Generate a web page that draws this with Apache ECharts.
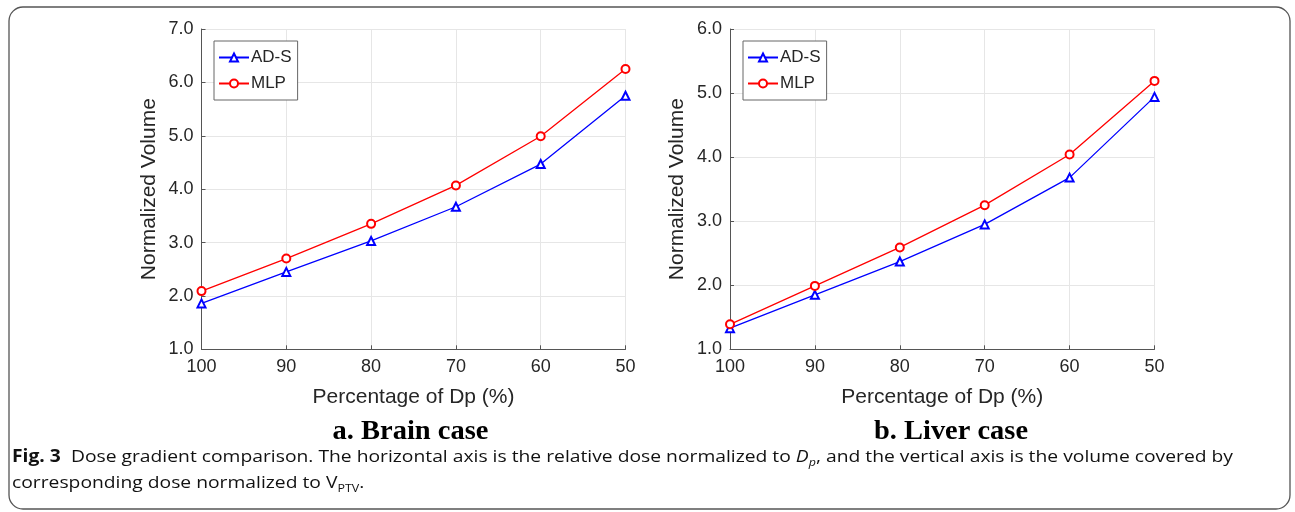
<!DOCTYPE html>
<html>
<head>
<meta charset="utf-8">
<script src="https://cdn.jsdelivr.net/npm/echarts@6/dist/echarts.min.js"></script>
<style>
html,body{margin:0;padding:0;background:#fff;}
#chart{width:1295px;height:512px;}
</style>
</head>
<body>
<div id="chart"></div>
<script>
// ---- data ----
var dosePercent = [100, 90, 80, 70, 60, 50];
var brainADS = [1.86, 2.45, 3.03, 3.67, 4.47, 5.75];
var brainMLP = [2.09, 2.70, 3.35, 4.07, 4.99, 6.25];
var liverADS = [1.33, 1.85, 2.37, 2.95, 3.68, 4.94];
var liverMLP = [1.39, 1.99, 2.59, 3.25, 4.04, 5.19];
var seriesNames = ['AD-S', 'MLP'];
var panelTitles = ['a. Brain case', 'b. Liver case'];
var xAxisTitle = 'Percentage of Dp (%)';
var yAxisTitle = 'Normalized Volume';
var captionBold = 'Fig. 3';
var caption1a = '  Dose gradient comparison. The horizontal axis is the relative dose normalized to ';
var caption1b = ', and the vertical axis is the volume covered by';
var caption2a = 'corresponding dose normalized to V';

function pairs(xs, ys) { return xs.map(function (x, i) { return [x, ys[i]]; }); }

var txt = '#262626';
var axisCol = '#555555';
var gridCol = '#e6e6e6';
var font = "'Liberation Sans', Arial, sans-serif";
var serif = "'Liberation Serif', 'Times New Roman', serif";
var capFont = "'Open Sans', sans-serif";
var capSize = 17, capSub = 11, subSize = 27;

var mctx = document.createElement('canvas').getContext('2d');
function mw(f, t) { mctx.font = f; return mctx.measureText(t).width; }

// horizontal stretch factors so text spans match the reference
var line1W = mw('bold ' + capSize + 'px ' + capFont, captionBold) + mw(capSize + 'px ' + capFont, caption1a) +
  mw('italic ' + capSize + 'px ' + capFont, 'D') + mw('italic ' + capSub + 'px ' + capFont, 'p') +
  mw(capSize + 'px ' + capFont, caption1b);
var capScale = 1221 / line1W;
var subScaleA = 156 / mw('bold ' + subSize + 'px ' + serif, panelTitles[0]);
var subScaleB = 154 / mw('bold ' + subSize + 'px ' + serif, panelTitles[1]);

function xAxisCfg(gi) {
  return {
    type: 'value', gridIndex: gi, inverse: true, min: 50, max: 100, interval: 10,
    name: xAxisTitle, nameLocation: 'middle', nameGap: 37,
    nameTextStyle: { color: txt, fontSize: 21, fontFamily: font },
    axisLine: { show: true, lineStyle: { color: axisCol, width: 1 } },
    axisTick: { show: true, inside: true, length: 4, lineStyle: { color: axisCol } },
    axisLabel: { color: txt, fontSize: 18, fontFamily: font, margin: 9 },
    splitLine: { show: true, lineStyle: { color: gridCol, width: 1 } }
  };
}
function yAxisCfg(gi, max) {
  return {
    type: 'value', gridIndex: gi, min: 1, max: max, interval: 1,
    name: yAxisTitle, nameLocation: 'middle', nameGap: 42,
    nameTextStyle: { color: txt, fontSize: 21, fontFamily: font },
    axisLine: { show: true, lineStyle: { color: axisCol, width: 1 } },
    axisTick: { show: true, inside: true, length: 4, lineStyle: { color: axisCol } },
    axisLabel: { color: txt, fontSize: 18, fontFamily: font, margin: 8,
      formatter: function (v) { return v.toFixed(1); } },
    splitLine: { show: true, lineStyle: { color: gridCol, width: 1 } }
  };
}
function lineSeries(name, data, gi, color, symbol) {
  return {
    name: name, type: 'line', xAxisIndex: gi, yAxisIndex: gi,
    data: data, symbol: symbol, symbolSize: 8, showSymbol: true,
    lineStyle: { color: color, width: 1.3 },
    itemStyle: { color: color, borderColor: color, borderWidth: 1.3 },
    emphasis: { disabled: true }, animation: false
  };
}
function legendCfg(left) {
  return {
    orient: 'vertical', left: left, top: 41,
    data: seriesNames,
    itemWidth: 30, itemHeight: 10, itemGap: 9,
    padding: [8, 6, 8, 4],
    borderColor: '#666', borderWidth: 1, backgroundColor: '#fff',
    textStyle: { color: txt, fontSize: 17, fontFamily: font, padding: [0, 0, 0, -3] },
    selectedMode: false
  };
}

var chart = echarts.init(document.getElementById('chart'), null, { renderer: 'canvas' });
chart.setOption({
  backgroundColor: '#fff',
  animation: false,
  grid: [
    { left: 201.5, top: 29, width: 424, height: 320.3 },
    { left: 730, top: 29, width: 424.5, height: 320.3 }
  ],
  xAxis: [xAxisCfg(0), xAxisCfg(1)],
  yAxis: [yAxisCfg(0, 7), yAxisCfg(1, 6)],
  legend: [legendCfg(214), legendCfg(743)],
  series: [
    lineSeries(seriesNames[0], pairs(dosePercent, brainADS), 0, '#0000ff', 'emptyTriangle'),
    lineSeries(seriesNames[1], pairs(dosePercent, brainMLP), 0, '#ff0000', 'emptyCircle'),
    lineSeries(seriesNames[0], pairs(dosePercent, liverADS), 1, '#0000ff', 'emptyTriangle'),
    lineSeries(seriesNames[1], pairs(dosePercent, liverMLP), 1, '#ff0000', 'emptyCircle')
  ],
  graphic: [
    { type: 'rect', shape: { x: 9, y: 7, width: 1281, height: 502, r: 14 },
      style: { fill: 'none', stroke: '#555', lineWidth: 1.3 }, silent: true },
    { type: 'text', x: 410.5, y: 432, scaleX: subScaleA,
      style: { text: panelTitles[0], font: 'bold ' + subSize + 'px ' + serif, fill: '#000',
        align: 'center', verticalAlign: 'middle' }, silent: true },
    { type: 'text', x: 951, y: 432, scaleX: subScaleB,
      style: { text: panelTitles[1], font: 'bold ' + subSize + 'px ' + serif, fill: '#000',
        align: 'center', verticalAlign: 'middle' }, silent: true },
    { type: 'text', x: 12, y: 457, scaleX: capScale,
      style: {
        text: '{b|' + captionBold + '}{n|' + caption1a + '}{i|D}{s|p}{n|' + caption1b + '}',
        verticalAlign: 'middle', align: 'left',
        rich: {
          b: { fontFamily: capFont, fontWeight: 'bold', fontSize: capSize, fill: '#111', lineHeight: 24 },
          n: { fontFamily: capFont, fontSize: capSize, fill: '#111', lineHeight: 24 },
          i: { fontFamily: capFont, fontStyle: 'italic', fontSize: capSize, fill: '#111', lineHeight: 24 },
          s: { fontFamily: capFont, fontStyle: 'italic', fontSize: capSub, fill: '#111', lineHeight: 24, padding: [11, 0, 0, 0] }
        }
      }, silent: true },
    { type: 'text', x: 12, y: 483, scaleX: capScale,
      style: {
        text: '{n|' + caption2a + '}{s|PTV}{n|.}',
        verticalAlign: 'middle', align: 'left',
        rich: {
          n: { fontFamily: capFont, fontSize: capSize, fill: '#111', lineHeight: 24 },
          s: { fontFamily: capFont, fontSize: capSub, fill: '#111', lineHeight: 24, padding: [11, 0, 0, 0] }
        }
      }, silent: true }
  ]
});
</script>
</body>
</html>
